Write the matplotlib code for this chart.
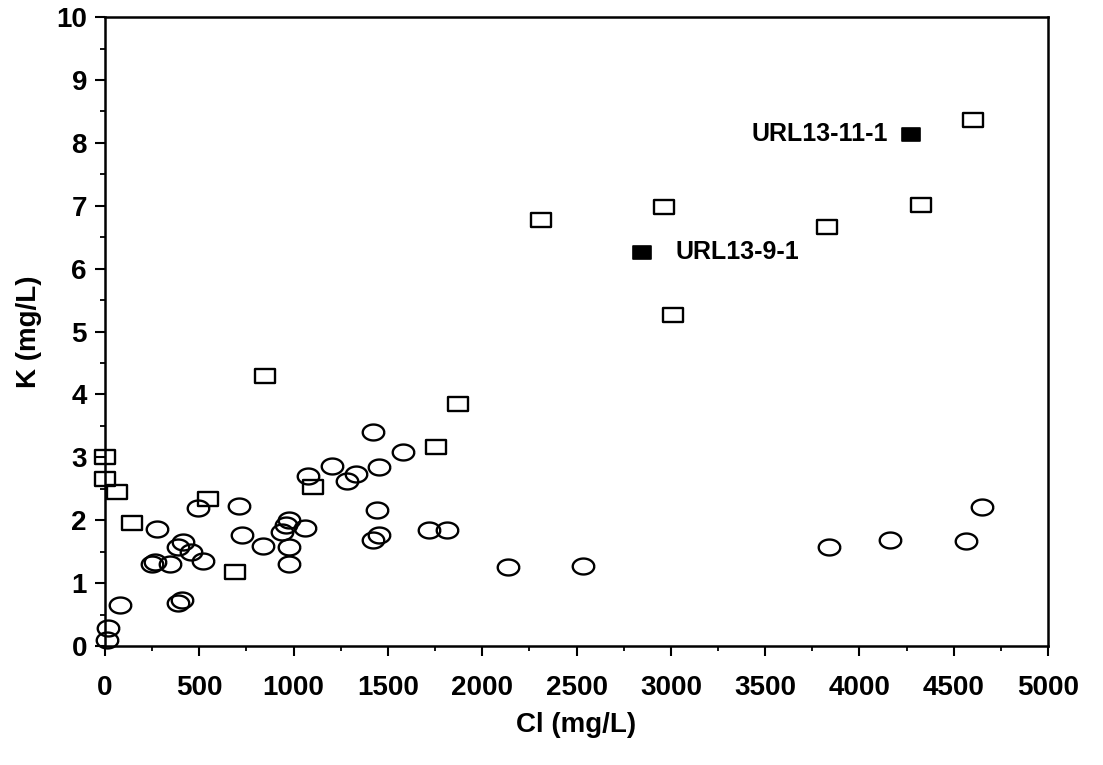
import matplotlib
matplotlib.use("Agg")
import matplotlib.pyplot as plt
import numpy as np
from matplotlib.path import Path

plt.rcParams['font.family'] = ['Liberation Sans', 'DejaVu Sans']

# open squares
sq_cl = [0, 0, 65, 141, 548, 689, 848, 1105, 1755, 1873, 2309, 2964, 3009, 3828, 4325, 4600]
sq_k = [3.0, 2.66, 2.45, 1.96, 2.33, 1.18, 4.29, 2.53, 3.16, 3.85, 6.77, 6.98, 5.27, 6.67, 7.02, 8.36]

# open circles
ci_cl = [12, 18, 80, 388, 406, 247, 265, 345, 274, 389, 412, 454, 495, 521,
         712, 728, 839, 937, 960, 976, 977, 977, 1060, 1075, 1205, 1281, 1329,
         1419, 1419, 1440, 1454, 1454, 1582, 1719, 1811, 2138, 2533,
         3840, 4162, 4565, 4651]
ci_k = [0.10, 0.28, 0.65, 0.68, 0.73, 1.31, 1.34, 1.31, 1.86, 1.58, 1.66, 1.49, 2.20, 1.35,
        2.22, 1.76, 1.59, 1.81, 1.92, 1.58, 2.00, 1.30, 1.88, 2.70, 2.86, 2.63, 2.74,
        3.41, 1.69, 2.17, 2.85, 1.76, 3.08, 1.85, 1.85, 1.25, 1.27,
        1.58, 1.69, 1.67, 2.21]

# labelled samples (filled squares)
lab_names = ["URL13-11-1", "URL13-9-1"]
lab_cl = [4271, 2846]
lab_k = [8.14, 6.26]

# marker shapes: wide rectangle and flattened ellipse
rect = Path([(-1, -0.72), (1, -0.72), (1, 0.72), (-1, 0.72), (-1, -0.72)],
            [Path.MOVETO, Path.LINETO, Path.LINETO, Path.LINETO, Path.CLOSEPOLY])
t = np.linspace(0, 2 * np.pi, 60)
ell = Path(np.column_stack([np.cos(t), 0.74 * np.sin(t)]))

fig = plt.figure(figsize=(11.03, 7.65), dpi=100)
ax = fig.add_axes([0.0952, 0.1556, 0.855, 0.822])

ax.plot(ci_cl, ci_k, linestyle='none', marker=ell, markersize=15.5,
        markerfacecolor='none', markeredgecolor='black', markeredgewidth=1.7,
        clip_on=False)
ax.plot(sq_cl, sq_k, linestyle='none', marker=rect, markersize=15,
        markerfacecolor='none', markeredgecolor='black', markeredgewidth=1.7,
        clip_on=False)
ax.plot(lab_cl, lab_k, linestyle='none', marker=rect, markersize=13,
        markerfacecolor='black', markeredgecolor='black', markeredgewidth=1.2)

ax.text(lab_cl[0] - 120, lab_k[0], lab_names[0], ha='right', va='center',
        fontsize=18, fontweight='bold')
ax.text(lab_cl[1] + 180, lab_k[1], lab_names[1], ha='left', va='center',
        fontsize=18, fontweight='bold')

ax.set_xlim(0, 5000)
ax.set_ylim(0, 10)
ax.set_xticks(np.arange(0, 5001, 500))
ax.set_xticks(np.arange(0, 5001, 250), minor=True)
ax.set_yticks(np.arange(0, 11, 1))
ax.set_yticks(np.arange(0, 10.01, 0.5), minor=True)
ax.tick_params(which='major', length=7, width=1.5, labelsize=20)
ax.tick_params(axis='x', which='major', pad=14)
ax.tick_params(axis='y', which='major', pad=6)
ax.tick_params(which='minor', length=3.5, width=1.3)
for lab in ax.get_xticklabels() + ax.get_yticklabels():
    lab.set_fontweight('bold')
for s in ax.spines.values():
    s.set_linewidth(1.8)

ax.set_xlabel("Cl (mg/L)", fontsize=20, fontweight='bold', labelpad=8)
ax.set_ylabel("K (mg/L)", fontsize=20, fontweight='bold', labelpad=10)

fig.savefig("out.png", dpi=100)
